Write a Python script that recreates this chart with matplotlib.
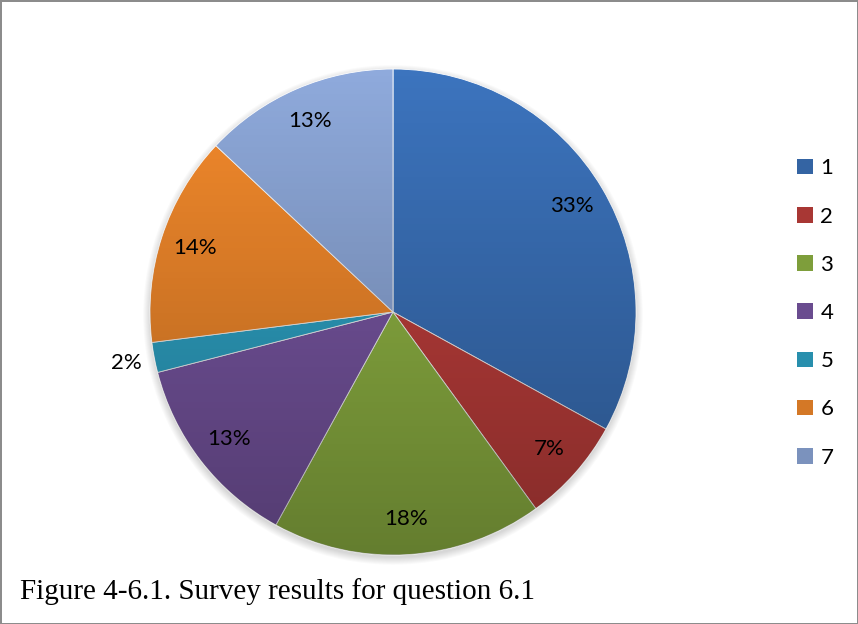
import numpy as np
import matplotlib.pyplot as plt
from matplotlib.patches import Circle, Patch
from matplotlib.colors import to_rgb

# survey answers for question 6.1 (percent of respondents)
labels = ["1", "2", "3", "4", "5", "6", "7"]
shares = [33, 7, 18, 13, 2, 14, 13]
colors = ["#3C74BE", "#C3403D", "#93B845", "#7B58A6", "#2FA6C9", "#F68B2C", "#8FAADC"]

fig = plt.figure(figsize=(8.58, 6.24), dpi=100)
fig.patch.set_facecolor("white")
fig.patch.set_edgecolor("#8c8c8c")
fig.patch.set_linewidth(2)

W, H = 858, 624
cx, cy, r = 393, 312, 243
ax = fig.add_axes([(cx - r) / W, (H - cy - r) / H, 2 * r / W, 2 * r / H])

# soft shadow under the pie
for i in range(8):
    ax.add_patch(Circle((0, -0.012), 1.0 + 0.004 * i, facecolor="black",
                        alpha=0.018, edgecolor="none", zorder=0, clip_on=False))

wedges, _ = ax.pie(shares, colors=colors, startangle=90, counterclock=False,
                   radius=1.0, wedgeprops=dict(edgecolor="white", linewidth=0.6))
for w in wedges:
    w.set_zorder(2)

# vertical darkening across the whole pie
grad = np.zeros((256, 2, 4))
grad[..., 3] = np.linspace(0.0, 0.32, 256)[:, None]
im = ax.imshow(grad, extent=[-1, 1, -1, 1], origin="upper", aspect="auto",
               zorder=3, interpolation="bilinear")
clip = Circle((0, 0), 1.0, transform=ax.transData)
im.set_clip_path(clip)

ax.set_xlim(-1, 1)
ax.set_ylim(-1, 1)
ax.set_aspect("equal")
ax.axis("off")

# percentage labels
total = sum(shares)
start = 90.0
for s in shares:
    mid = np.deg2rad(start - s / total * 360 / 2)
    dist = 1.115 if s < 5 else 0.855
    ax.text(dist * np.cos(mid), dist * np.sin(mid), f"{s}%", ha="center", va="center",
            fontsize=16, family="Lato", color="black", zorder=5)
    start -= s / total * 360

handles = [Patch(facecolor=tuple(c * 0.86 for c in to_rgb(col)), edgecolor="none")
           for col in colors]
fig.legend(handles, labels, loc="center left", bbox_to_anchor=(797 / W, 1 - 313 / H),
           frameon=False, prop=dict(family="Lato", size=16), handlelength=0.7,
           handleheight=0.7, handletextpad=0.35, labelspacing=1.27, borderpad=0,
           borderaxespad=0)

fig.text(20 / W, 1 - 592 / H, "Figure 4-6.1. Survey results for question 6.1",
         family="Liberation Serif", fontsize=21, va="center", ha="left")

fig.savefig("out.png", dpi=100, facecolor=fig.get_facecolor(), edgecolor=fig.get_edgecolor())
